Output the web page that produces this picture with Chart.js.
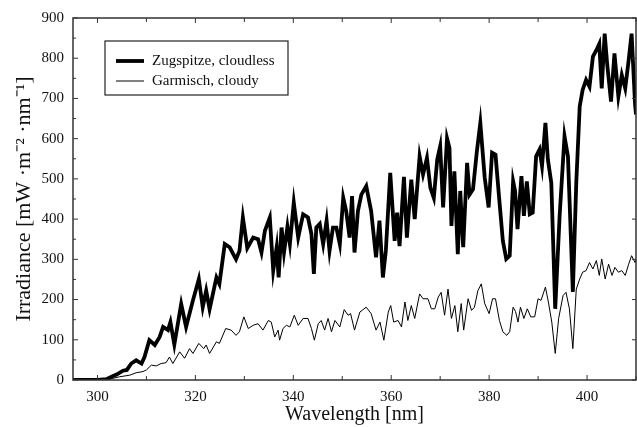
<!DOCTYPE html>
<html>
<head>
<meta charset="utf-8">
<script src="https://cdn.jsdelivr.net/npm/chart.js@4.4.1/dist/chart.umd.min.js"></script>
<style>
  html, body { margin: 0; padding: 0; background: #fff; }
  #wrap { width: 637px; height: 427px; }
</style>
</head>
<body>
<div id="wrap"><canvas id="c" width="637" height="427"></canvas></div>
<script>
const seriesNames = ["Zugspitze, cloudless", "Garmisch, cloudy"];

const zugWavelength = [295, 298, 300, 301.8, 303.2, 304, 305.2, 306, 306.9, 307.9, 309, 309.6, 310.6, 311.7, 312.7, 313.4, 314.4, 314.9, 315.7, 317.1, 318.1, 319.5, 320.7, 321.5, 322.2, 322.9, 324.3, 324.9, 326, 327, 328.3, 329, 329.7, 330.6, 331.8, 332.8, 333.5, 334.2, 335.2, 335.9, 336.6, 337, 337.6, 338.1, 338.8, 339.3, 340.1, 341, 342, 343, 343.7, 344.2, 344.7, 345.4, 346.1, 346.8, 347.4, 348.1, 348.8, 349.5, 350.2, 350.8, 351.5, 352, 352.5, 353.2, 353.9, 354.9, 355.9, 356.9, 357.6, 358.3, 358.9, 359.8, 360.7, 361.2, 361.7, 362.6, 363.2, 364.1, 364.8, 365.8, 366.5, 367.3, 368, 368.7, 369.4, 370, 370.6, 371.4, 371.9, 372.3, 372.9, 373.6, 374.1, 374.7, 375.5, 376, 376.7, 377.5, 378.2, 379.1, 379.9, 380.6, 381.3, 382.1, 382.8, 383.5, 384.2, 384.9, 385.3, 385.8, 386.6, 387.1, 387.7, 388.3, 388.9, 389.6, 390.3, 390.8, 391.5, 392, 392.7, 393.5, 394.4, 395.4, 396.1, 397.1, 397.8, 398.5, 399.1, 399.8, 400.5, 401.2, 401.9, 402.5, 403, 403.6, 404.1, 404.9, 405.6, 406.4, 407.1, 407.8, 408.5, 409.1, 409.8, 410];
const zugIrradiance = [0, 0, 0, 2, 10, 14, 23, 25, 41, 49, 41, 57, 99, 87, 107, 132, 124, 144, 88, 189, 132, 198, 251, 181, 222, 176, 255, 239, 338, 330, 300, 321, 404, 328, 354, 350, 317, 371, 404, 272, 330, 255, 379, 317, 381, 338, 441, 354, 412, 404, 363, 264, 379, 388, 338, 396, 321, 379, 379, 338, 453, 420, 354, 457, 317, 420, 461, 482, 420, 305, 396, 255, 321, 515, 346, 416, 333, 505, 354, 498, 400, 556, 511, 552, 478, 453, 548, 581, 429, 601, 577, 383, 519, 313, 470, 330, 540, 461, 474, 569, 639, 503, 429, 565, 560, 445, 346, 301, 309, 494, 470, 375, 507, 408, 494, 412, 416, 556, 573, 532, 639, 548, 490, 177, 408, 606, 556, 219, 490, 680, 721, 746, 729, 804, 820, 836, 725, 861, 787, 692, 812, 705, 758, 725, 795, 861, 688, 660];

const garWavelength = [295, 300, 302, 304.5, 306.6, 307.9, 309.3, 310, 311, 312, 313, 314, 314.7, 315.4, 316.8, 317.8, 318.8, 319.5, 320.7, 321.7, 322.2, 322.9, 324.3, 324.9, 326.2, 327.3, 328.3, 329, 329.9, 330.8, 331.8, 332.8, 333.8, 334.9, 335.5, 336.2, 336.9, 337.2, 337.9, 338.6, 339.3, 340.2, 341, 342, 343, 343.7, 344.3, 345.1, 345.7, 346.4, 347.1, 347.8, 348.5, 349.5, 350.4, 351.2, 351.7, 352.5, 353.6, 354.9, 355.9, 356.9, 357.7, 358.5, 359.4, 359.9, 360.5, 361.4, 362.1, 362.8, 363.4, 364.1, 364.8, 365.8, 366.5, 367.5, 368.2, 368.9, 369.6, 370.2, 370.9, 371.6, 372.3, 373, 373.6, 374.3, 374.8, 375.7, 376.4, 377, 377.7, 378.4, 379.1, 380, 380.7, 381.3, 382.1, 382.8, 383.6, 384.2, 384.9, 385.4, 385.9, 386.4, 387.1, 387.8, 388.5, 389.3, 390, 390.6, 391.5, 392.1, 392.8, 393.5, 394.2, 395.1, 395.7, 396.4, 397.1, 397.8, 398.5, 399.1, 399.8, 400.5, 401.2, 401.9, 402.5, 403, 403.7, 404.4, 405.1, 405.7, 406.4, 407.1, 407.8, 408.5, 409.1, 409.8, 410];
const garIrradiance = [0, 0, 1, 8, 12, 18, 21, 25, 37, 35, 41, 43, 57, 41, 70, 54, 78, 66, 91, 78, 87, 66, 95, 91, 128, 124, 111, 120, 157, 128, 136, 140, 124, 148, 144, 107, 124, 99, 128, 136, 132, 161, 136, 153, 153, 128, 99, 140, 148, 124, 153, 120, 148, 132, 175, 161, 165, 124, 169, 181, 165, 124, 144, 99, 169, 185, 144, 148, 132, 194, 148, 185, 153, 214, 202, 202, 177, 177, 206, 218, 161, 226, 153, 185, 120, 190, 124, 202, 173, 181, 222, 239, 190, 165, 202, 202, 148, 120, 111, 120, 181, 170, 144, 181, 153, 177, 157, 157, 202, 198, 231, 194, 144, 66, 153, 210, 218, 177, 78, 226, 251, 268, 272, 292, 276, 297, 260, 301, 251, 288, 260, 280, 268, 272, 260, 288, 309, 292, 300];

const xTickLabels = [300, 320, 340, 360, 380, 400];
const yTickLabels = [0, 100, 200, 300, 400, 500, 600, 700, 800, 900];
const xTitle = "Wavelength [nm]";
const yTitle = "Irradiance [mW \u00b7m\u207b\u00b2 \u00b7nm\u207b\u00b9]";

const FONT = "'Liberation Serif', 'Times New Roman', serif";
const INK = "#111";

function toPoints(xs, ys) { return xs.map((x, i) => ({ x: x, y: ys[i] })); }

const framePlugin = {
  id: "frame",
  afterDatasetsDraw(chart) {
    const { ctx, chartArea: a, scales } = chart;
    const xs = scales.x, ys = scales.y;
    ctx.save();
    ctx.strokeStyle = "#333";
    ctx.lineWidth = 1.5;
    ctx.strokeRect(a.left, a.top, a.right - a.left, a.bottom - a.top);
    ctx.lineWidth = 1;
    for (let v = 300; v <= 410; v += 10) {
      const px = xs.getPixelForValue(v);
      const len = (v % 20 === 0) ? 5 : 4;
      ctx.beginPath();
      ctx.moveTo(px, a.bottom); ctx.lineTo(px, a.bottom - len);
      ctx.moveTo(px, a.top); ctx.lineTo(px, a.top + len);
      ctx.stroke();
    }
    for (let v = 0; v <= 900; v += 50) {
      const py = ys.getPixelForValue(v);
      const len = (v % 100 === 0) ? 5 : 3;
      ctx.beginPath();
      ctx.moveTo(a.left, py); ctx.lineTo(a.left + len, py);
      if (v % 100 === 0) { ctx.moveTo(a.right, py); ctx.lineTo(a.right - 4, py); }
      ctx.stroke();
    }
    ctx.restore();
  },
  afterDraw(chart) {
    const { ctx, chartArea: a } = chart;
    const left = a.left + 32, top = a.top + 23, w = 183, h = 54;
    ctx.save();
    ctx.fillStyle = "#fff";
    ctx.fillRect(left, top, w, h);
    ctx.strokeStyle = "#222";
    ctx.lineWidth = 1.2;
    ctx.strokeRect(left, top, w, h);
    const rows = [top + 20, top + 40];
    chart.data.datasets.forEach((ds, i) => {
      ctx.beginPath();
      ctx.strokeStyle = ds.borderColor;
      ctx.lineWidth = ds.borderWidth;
      ctx.moveTo(left + 11, rows[i]);
      ctx.lineTo(left + 39, rows[i]);
      ctx.stroke();
      ctx.fillStyle = INK;
      ctx.font = "15px " + FONT;
      ctx.textBaseline = "middle";
      ctx.textAlign = "left";
      ctx.fillText(ds.label, left + 47, rows[i]);
    });
    ctx.restore();
  }
};

new Chart(document.getElementById("c"), {
  type: "line",
  data: {
    datasets: [
      { label: seriesNames[0], data: toPoints(zugWavelength, zugIrradiance), borderColor: "#000", borderWidth: 3.8, pointRadius: 0, tension: 0, fill: false },
      { label: seriesNames[1], data: toPoints(garWavelength, garIrradiance), borderColor: "#000", borderWidth: 1, pointRadius: 0, tension: 0, fill: false }
    ]
  },
  options: {
    responsive: false,
    animation: false,
    layout: { padding: { top: 16, right: 1, left: 0, bottom: 0 } },
    plugins: { legend: { display: false }, tooltip: { enabled: false } },
    scales: {
      x: {
        type: "linear", min: 295, max: 410,
        afterBuildTicks: (s) => { s.ticks = xTickLabels.map(v => ({ value: v })); },
        afterFit: (s) => { s.height = 47; },
        grid: { display: false, drawTicks: false },
        border: { display: false },
        ticks: { color: INK, font: { family: FONT, size: 15 }, padding: 8, maxRotation: 0 },
        title: { display: true, text: xTitle, color: INK, font: { family: FONT, size: 20 }, padding: { top: 0, bottom: 0 } }
      },
      y: {
        type: "linear", min: 0, max: 900,
        afterBuildTicks: (s) => { s.ticks = yTickLabels.map(v => ({ value: v })); },
        afterFit: (s) => { s.width = 73; },
        grid: { display: false, drawTicks: false },
        border: { display: false },
        ticks: { color: INK, font: { family: FONT, size: 15 }, padding: 9 },
        title: { display: true, text: yTitle, color: INK, font: { family: FONT, size: 22 }, padding: { top: 11, bottom: 0 } }
      }
    }
  },
  plugins: [framePlugin]
});
</script>
</body>
</html>
